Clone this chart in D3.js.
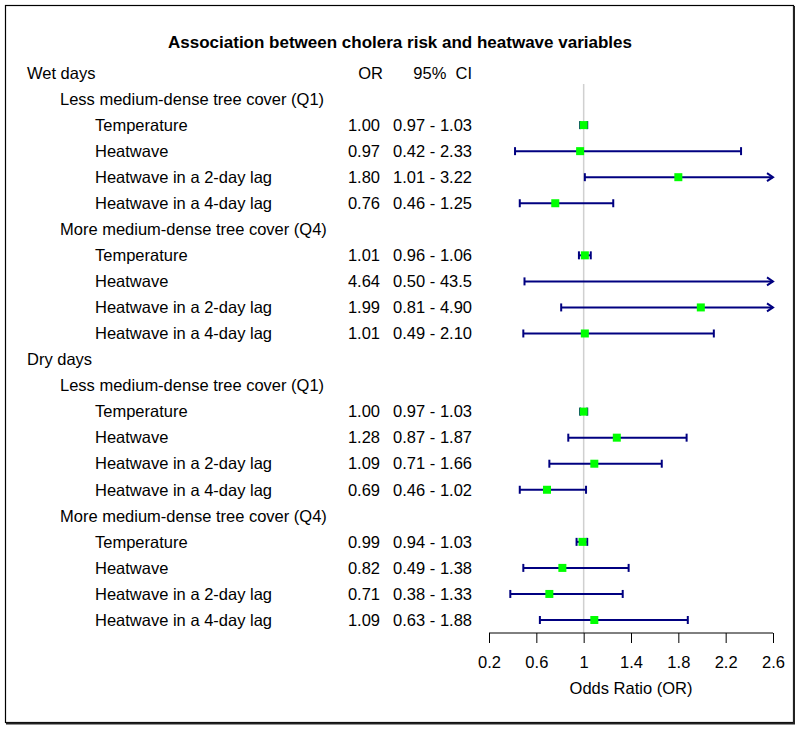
<!DOCTYPE html>
<html><head><meta charset="utf-8">
<script src="https://cdn.jsdelivr.net/npm/d3@7"></script>
<style>body{margin:0;background:#fff}svg text{font-family:"Liberation Sans",Arial,sans-serif;white-space:pre}</style>
</head><body><svg id="c" width="800" height="729"></svg>
<script>
const labels = ["Wet days","Less medium-dense tree cover (Q1)","Temperature","Heatwave","Heatwave in a 2-day lag","Heatwave in a 4-day lag",
"More medium-dense tree cover (Q4)","Temperature","Heatwave","Heatwave in a 2-day lag","Heatwave in a 4-day lag",
"Dry days","Less medium-dense tree cover (Q1)","Temperature","Heatwave","Heatwave in a 2-day lag","Heatwave in a 4-day lag",
"More medium-dense tree cover (Q4)","Temperature","Heatwave","Heatwave in a 2-day lag","Heatwave in a 4-day lag"];
const levels = [0,1,2,2,2,2,1,2,2,2,2,0,1,2,2,2,2,1,2,2,2,2];
const orVals = [null,null,1.00,0.97,1.80,0.76,null,1.01,4.64,1.99,1.01,null,null,1.00,1.28,1.09,0.69,null,0.99,0.82,0.71,1.09];
const loVals = [null,null,0.97,0.42,1.01,0.46,null,0.96,0.50,0.81,0.49,null,null,0.97,0.87,0.71,0.46,null,0.94,0.49,0.38,0.63];
const hiVals = [null,null,1.03,2.33,3.22,1.25,null,1.06,43.5,4.90,2.10,null,null,1.03,1.87,1.66,1.02,null,1.03,1.38,1.33,1.88];
const orText = [null,null,"1.00","0.97","1.80","0.76",null,"1.01","4.64","1.99","1.01",null,null,"1.00","1.28","1.09","0.69",null,"0.99","0.82","0.71","1.09"];
const ciText = [null,null,"0.97 - 1.03","0.42 - 2.33","1.01 - 3.22","0.46 - 1.25",null,"0.96 - 1.06","0.50 - 43.5","0.81 - 4.90","0.49 - 2.10",null,null,"0.97 - 1.03","0.87 - 1.87","0.71 - 1.66","0.46 - 1.02",null,"0.94 - 1.03","0.49 - 1.38","0.38 - 1.33","0.63 - 1.88"];
const tickVals = [0.2,0.6,1,1.4,1.8,2.2,2.6];
const tickLabels = ["0.2","0.6","1","1.4","1.8","2.2","2.6"];
const title = "Association between cholera risk and heatwave variables";
const xTitle = "Odds Ratio (OR)";

const FS = 16.5;
const svg = d3.select("#c");
const x = d3.scaleLinear().domain([0.2,2.6]).range([489,773]);
const y = d3.scaleLinear().domain([0,labels.length-1]).range([73,620]);
const navy = "#000080", green = "#00ff00";

// border
svg.append("rect").attr("x",5.5).attr("y",5.5).attr("width",788).attr("height",717).attr("fill","none").attr("stroke","#000").attr("stroke-width",1.2);
svg.append("line").attr("x1",794).attr("x2",794).attr("y1",6).attr("y2",724).attr("stroke","#222").attr("stroke-width",2);
svg.append("line").attr("x1",6).attr("x2",795).attr("y1",723.5).attr("y2",723.5).attr("stroke","#222").attr("stroke-width",2);

svg.append("text").attr("x",400).attr("y",48).attr("text-anchor","middle").attr("font-size",17).attr("font-weight","bold").text(title);

// headers
svg.append("text").attr("x",383).attr("y",y(0)).attr("dy","0.35em").attr("text-anchor","end").attr("font-size",FS).text("OR");
svg.append("text").attr("x",472).attr("y",y(0)).attr("dy","0.35em").attr("text-anchor","end").attr("font-size",FS).text("95%  CI");

const indent = [27,60,95];
labels.forEach((l,i)=>{
  svg.append("text").attr("x",indent[levels[i]]).attr("y",y(i)).attr("dy","0.35em").attr("font-size",FS).text(l);
  if(orText[i]){
    svg.append("text").attr("x",380).attr("y",y(i)).attr("dy","0.35em").attr("text-anchor","end").attr("font-size",FS).text(orText[i]);
    svg.append("text").attr("x",472).attr("y",y(i)).attr("dy","0.35em").attr("text-anchor","end").attr("font-size",FS).text(ciText[i]);
  }
});

// reference line
svg.append("line").attr("x1",x(1)).attr("x2",x(1)).attr("y1",84).attr("y2",633).attr("stroke","#d0d0d0").attr("stroke-width",1.5);

// CIs
const dom = x.domain();
labels.forEach((l,i)=>{
  if(orVals[i]==null) return;
  const yy = y(i);
  const lo = Math.max(loVals[i],dom[0]), hi = Math.min(hiVals[i],dom[1]);
  const x1 = x(lo), x2 = x(hi);
  const g = svg.append("g");
  g.append("line").attr("x1",x1).attr("x2",x2).attr("y1",yy).attr("y2",yy).attr("stroke",navy).attr("stroke-width",2);
  if(loVals[i]>=dom[0]) g.append("line").attr("x1",x1).attr("x2",x1).attr("y1",yy-4).attr("y2",yy+4).attr("stroke",navy).attr("stroke-width",2);
  if(hiVals[i]<=dom[1]) g.append("line").attr("x1",x2).attr("x2",x2).attr("y1",yy-4).attr("y2",yy+4).attr("stroke",navy).attr("stroke-width",2);
  else g.append("path").attr("d",`M${x2-6},${yy-4}L${x2},${yy}L${x2-6},${yy+4}`).attr("fill","none").attr("stroke",navy).attr("stroke-width",2);
  if(orVals[i]>=dom[0] && orVals[i]<=dom[1])
    g.append("rect").attr("x",x(orVals[i])-4).attr("y",yy-4).attr("width",8).attr("height",8).attr("fill",green);
});

// axis
const axis = d3.axisBottom(x).tickValues(tickVals).tickFormat((d,i)=>tickLabels[i]).tickSize(10).tickPadding(13);
const ag = svg.append("g").attr("transform","translate(0,633)").call(axis);
ag.select(".domain").attr("stroke","#000").attr("d",`M${x(0.2)},0H${x(2.6)}`);
ag.selectAll(".tick line").attr("stroke","#000");
ag.selectAll(".tick text").attr("font-size",FS).attr("fill","#000").attr("font-family","Liberation Sans, Arial, sans-serif");
svg.append("text").attr("x",(x(0.2)+x(2.6))/2).attr("y",694).attr("text-anchor","middle").attr("font-size",FS).text(xTitle);
</script></body></html>
